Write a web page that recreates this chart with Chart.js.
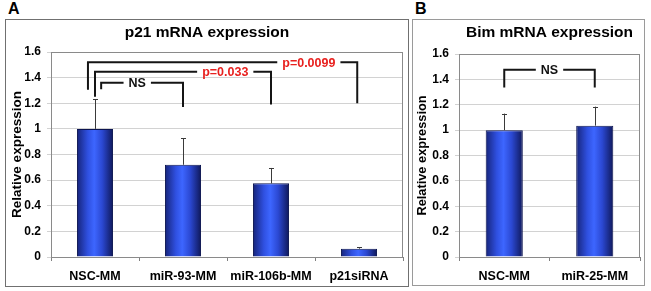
<!DOCTYPE html>
<html>
<head>
<meta charset="utf-8">
<script src="https://cdn.jsdelivr.net/npm/chart.js@4.4.0/dist/chart.umd.min.js"></script>
<style>
  body { margin: 0; background: #fff; }
  .panel { position: absolute; border: 1px solid #707070; }
  .panel canvas { display: block; }
  .tag { position: absolute; font: bold 16px Arial, "Liberation Sans", sans-serif; color: #000; }
</style>
</head>
<body>
<div class="tag" style="left:8px;top:0px">A</div>
<div class="tag" style="left:415px;top:0px">B</div>
<div class="panel" style="left:5px;top:19px;width:402px;height:266px">
  <canvas id="chA" width="402" height="266"></canvas>
</div>
<div class="panel" style="left:412px;top:19px;width:231px;height:265px;border-color:#9a9a9a">
  <canvas id="chB" width="231" height="265"></canvas>
</div>
<script>
// panel A - p21
var p21Labels = ['NSC-MM', 'miR-93-MM', 'miR-106b-MM', 'p21siRNA'];
var p21Values = [1.0, 0.72, 0.575, 0.065];
var p21Errors = [0.23, 0.205, 0.12, 0.011];
// brackets: from/to/at in category units, top/leftEnd/rightEnd in value units
var p21Brackets = [
  { label: 'p=0.0099', from: -0.08, to: 2.98, top: 1.52, leftEnd: 1.305, rightEnd: 1.20, at: 2.43 },
  { label: 'p=0.033', from: 0, to: 2, top: 1.445, leftEnd: 1.25, rightEnd: 1.19, at: 1.48 },
  { label: 'NS', from: 0.07, to: 1, top: 1.36, leftEnd: 1.31, rightEnd: 1.17, at: 0.48 }
];

// panel B - Bim
var bimLabels = ['NSC-MM', 'miR-25-MM'];
var bimValues = [1.0, 1.035];
var bimErrors = [0.13, 0.15];
var bimBrackets = [
  { label: 'NS', from: 0, to: 1, top: 1.475, leftEnd: 1.335, rightEnd: 1.335, at: 0.5 }
];

var yMin = 0, yMax = 1.6, yStep = 0.2;

var FONT = 'Arial, "Liberation Sans", sans-serif';
var BAR_PCT = 0.41;
Chart.defaults.font.family = FONT;

function barFill(ctx) {
  var chart = ctx.chart;
  var xs = chart.scales.x;
  if (ctx.type !== 'data' || !chart.chartArea || !xs) return '#2f52e0';
  var cx = xs.getPixelForValue(ctx.dataIndex);
  var half = (xs.width / chart.data.labels.length) * BAR_PCT / 2;
  var g = chart.ctx.createLinearGradient(cx - half, 0, cx + half, 0);
  g.addColorStop(0, '#16247a');
  g.addColorStop(0.3, '#2f50e0');
  g.addColorStop(0.48, '#3d66ff');
  g.addColorStop(0.7, '#2b48d2');
  g.addColorStop(1, '#0f185a');
  return g;
}

function catX(xs, v) {
  var p0 = xs.getPixelForValue(0);
  var p1 = xs.getPixelForValue(1);
  return p0 + v * (p1 - p0);
}

var plotBorder = {
  id: 'plotBorder',
  beforeDatasetsDraw: function(chart) {
    var a = chart.chartArea, c = chart.ctx;
    c.save();
    c.strokeStyle = '#8a8a8a';
    c.lineWidth = 1;
    c.strokeRect(Math.round(a.left) + 0.5, Math.round(a.top) + 0.5,
      Math.round(a.right - a.left) - 1, Math.round(a.bottom - a.top));
    c.restore();
  }
};

var errorBars = {
  id: 'errorBars',
  afterDatasetsDraw: function(chart, args, opts) {
    var c = chart.ctx, ys = chart.scales.y;
    var meta = chart.getDatasetMeta(0);
    c.save();
    c.strokeStyle = '#3a3a3a';
    c.lineWidth = 1;
    meta.data.forEach(function(bar, i) {
      var v = chart.data.datasets[0].data[i];
      var yTop = ys.getPixelForValue(v + opts.errors[i]);
      var x = Math.round(bar.x) + 0.5;
      c.beginPath();
      c.moveTo(x, bar.y);
      c.lineTo(x, yTop);
      c.moveTo(x - 2.5, Math.round(yTop) + 0.5);
      c.lineTo(x + 2.5, Math.round(yTop) + 0.5);
      c.stroke();
    });
    c.restore();
  }
};

var brackets = {
  id: 'brackets',
  afterDatasetsDraw: function(chart, args, opts) {
    var c = chart.ctx, xs = chart.scales.x, ys = chart.scales.y;
    c.save();
    c.font = 'bold 12.5px ' + FONT;
    c.textAlign = 'center';
    c.textBaseline = 'middle';
    opts.items.forEach(function(b) {
      var x1 = catX(xs, b.from), x2 = catX(xs, b.to);
      var yt = ys.getPixelForValue(b.top);
      var tx = catX(xs, b.at);
      var tw = c.measureText(b.label).width;
      c.strokeStyle = '#151515';
      c.lineWidth = 2;
      c.beginPath();
      c.moveTo(x1, ys.getPixelForValue(b.leftEnd));
      c.lineTo(x1, yt);
      c.lineTo(tx - tw / 2 - 5, yt);
      c.moveTo(tx + tw / 2 + 5, yt);
      c.lineTo(x2, yt);
      c.lineTo(x2, ys.getPixelForValue(b.rightEnd));
      c.stroke();
      c.fillStyle = b.label === 'NS' ? '#111' : '#e8201e';
      c.fillText(b.label, tx, yt + 1);
    });
    c.restore();
  }
};

var panelTitle = {
  id: 'panelTitle',
  afterDraw: function(chart, args, opts) {
    var c = chart.ctx, a = chart.chartArea;
    var x = opts.over === 'area' ? (a.left + a.right) / 2 : chart.width / 2;
    c.save();
    c.font = 'bold 15.5px ' + FONT;
    c.fillStyle = '#000';
    c.textAlign = 'center';
    c.textBaseline = 'middle';
    c.fillText(opts.text, x, opts.y);
    c.restore();
  }
};

function makeChart(id, labels, values, errors, items, title, geo) {
  return new Chart(document.getElementById(id), {
    type: 'bar',
    data: {
      labels: labels,
      datasets: [{
        data: values,
        backgroundColor: barFill,
        borderColor: '#0b1450',
        borderWidth: 1,
        barPercentage: BAR_PCT,
        categoryPercentage: 1
      }]
    },
    options: {
      responsive: false,
      animation: false,
      events: [],
      layout: { padding: { top: geo.top, right: geo.right, left: 0, bottom: 0 } },
      plugins: {
        legend: { display: false },
        tooltip: { enabled: false },
        errorBars: { errors: errors },
        brackets: { items: items },
        panelTitle: { text: title, over: geo.titleOver, y: 13 }
      },
      scales: {
        x: {
          afterFit: function(s) { s.height = geo.xHeight; },
          grid: { offset: true, drawOnChartArea: false, tickLength: 4, color: '#808080' },
          border: { color: '#808080' },
          ticks: { color: '#000', padding: 8, maxRotation: 0, autoSkip: false,
            font: { size: 12.5, weight: 'bold' } }
        },
        y: {
          min: yMin, max: yMax,
          afterFit: function(s) { s.width = geo.yWidth; },
          grid: { color: '#d2d2d2', tickLength: 4 },
          border: { color: '#808080' },
          ticks: { stepSize: yStep, color: '#000', padding: 6, font: { size: 12, weight: 'bold' },
            callback: function(v) { return String(Math.round(v * 10) / 10); } },
          title: { display: true, text: 'Relative expression', color: '#000',
            padding: { top: geo.titlePad, bottom: 0 },
            font: { size: geo.titleSize, weight: 'bold', lineHeight: 1.2 } }
        }
      }
    },
    plugins: [plotBorder, errorBars, brackets, panelTitle]
  });
}

makeChart('chA', p21Labels, p21Values, p21Errors, p21Brackets, 'p21 mRNA expression',
  { top: 32, right: 5, xHeight: 29, yWidth: 45, titlePad: 3, titleSize: 13.5, titleOver: 'canvas' });
makeChart('chB', bimLabels, bimValues, bimErrors, bimBrackets, 'Bim mRNA expression',
  { top: 34, right: 4, xHeight: 28, yWidth: 46, titlePad: 1.5, titleSize: 12.8, titleOver: 'area' });
</script>
</body>
</html>
